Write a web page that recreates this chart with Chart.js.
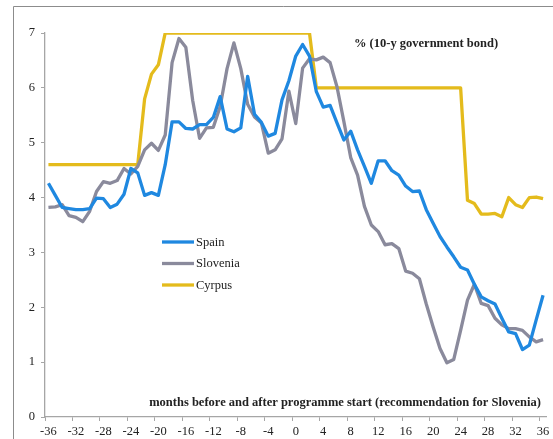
<!DOCTYPE html>
<html>
<head>
<meta charset="utf-8">
<script src="https://cdn.jsdelivr.net/npm/chart.js@4.4.0/dist/chart.umd.min.js"></script>
<style>
  body { margin: 0; background: #fff; }
  #wrap { width: 553px; height: 439px; }
</style>
</head>
<body>
<div id="wrap"><canvas id="chart" width="553" height="439"></canvas></div>
<script>
// months relative to programme start
const months = [
  -36, -35, -34, -33, -32, -31, -30, -29, -28, -27, -26, -25, -24, -23, -22, -21, -20, -19,
  -18, -17, -16, -15, -14, -13, -12, -11, -10, -9, -8, -7, -6, -5, -4, -3, -2, -1,
  0, 1, 2, 3, 4, 5, 6, 7, 8, 9, 10, 11, 12, 13, 14, 15, 16, 17, 18,
  19, 20, 21, 22, 23, 24, 25, 26, 27, 28, 29, 30, 31, 32, 33, 34, 35, 36
];

// 10-year government bond yields, %
const spain = [
  4.26, 4.04, 3.82, 3.80, 3.78, 3.78, 3.80, 3.99, 3.98, 3.82,
  3.88, 4.06, 4.53, 4.45, 4.04, 4.09, 4.04, 4.60, 5.38, 5.38,
  5.26, 5.25, 5.33, 5.33, 5.46, 5.84, 5.25, 5.20, 5.27, 6.21,
  5.52, 5.37, 5.12, 5.17, 5.78, 6.13, 6.58, 6.79, 6.58, 5.93,
  5.65, 5.68, 5.36, 5.05, 5.21, 4.87, 4.57, 4.26, 4.67, 4.67,
  4.49, 4.41, 4.21, 4.11, 4.12, 3.78, 3.53, 3.29, 3.10, 2.92,
  2.73, 2.68, 2.42, 2.19, 2.12, 2.06, 1.80, 1.55, 1.52, 1.23,
  1.31, 1.77, 2.22
];
const slovenia = [
  3.82, 3.83, 3.87, 3.67, 3.64, 3.56, 3.75, 4.11, 4.29, 4.26,
  4.31, 4.53, 4.43, 4.57, 4.87, 4.99, 4.86, 5.14, 6.46, 6.90,
  6.74, 5.77, 5.08, 5.27, 5.28, 5.66, 6.35, 6.82, 6.35, 5.70,
  5.47, 5.36, 4.81, 4.87, 5.07, 5.94, 5.35, 6.36, 6.53, 6.51,
  6.56, 6.46, 6.02, 5.39, 4.73, 4.41, 3.84, 3.50, 3.38, 3.14,
  3.16, 3.07, 2.66, 2.62, 2.52, 2.06, 1.64, 1.25, 0.99, 1.05,
  1.58, 2.13, 2.42, 2.07, 2.03, 1.80, 1.68, 1.61, 1.61, 1.58,
  1.46, 1.37, 1.41
];
const cyprus = [
  4.6, 4.6, 4.6, 4.6, 4.6, 4.6, 4.6, 4.6, 4.6, 4.6,
  4.6, 4.6, 4.6, 4.6, 5.8, 6.25, 6.42, 7, 7, 7,
  7, 7, 7, 7, 7, 7, 7, 7, 7, 7,
  7, 7, 7, 7, 7, 7, 7, 7, 7, 6,
  6, 6, 6, 6, 6, 6, 6, 6, 6, 6,
  6, 6, 6, 6, 6, 6, 6, 6, 6, 6,
  6, 3.95, 3.89, 3.70, 3.70, 3.71, 3.65, 4.0, 3.87, 3.82,
  4.0, 4.01, 3.98
];

const seriesNames = ['Spain', 'Slovenia', 'Cyrpus'];
const seriesColors = ['#1f88e0', '#8a8a9c', '#e4bb1c'];

const serif = "'Liberation Serif', 'Times New Roman', serif";
const axisGrey = '#a6a6a6';
const textColor = '#222';

// frame, in-plot titles and legend
const decorations = {
  id: 'decorations',
  beforeDraw(chart) {
    const ctx = chart.ctx;
    ctx.save();
    ctx.strokeStyle = '#8c8c8c';
    ctx.lineWidth = 1;
    ctx.beginPath();
    ctx.moveTo(13.5, 439);
    ctx.lineTo(13.5, 6.5);
    ctx.lineTo(553, 6.5);
    ctx.stroke();
    ctx.restore();
  },
  afterDraw(chart) {
    const ctx = chart.ctx;
    ctx.save();
    ctx.fillStyle = textColor;
    ctx.textAlign = 'center';
    ctx.textBaseline = 'alphabetic';
    ctx.font = 'bold 12.5px ' + serif;
    ctx.fillText('% (10-y government bond)', 426, 46.5);
    ctx.fillText('months before and after programme start (recommendation for Slovenia)', 345, 405.5);

    ctx.textAlign = 'left';
    ctx.textBaseline = 'middle';
    ctx.font = '12.5px ' + serif;
    chart.data.datasets.forEach((ds, i) => {
      const y = 242 + i * 21.5;
      ctx.strokeStyle = ds.borderColor;
      ctx.lineWidth = ds.borderWidth;
      ctx.beginPath();
      ctx.moveTo(162, y);
      ctx.lineTo(194, y);
      ctx.stroke();
      ctx.fillText(ds.label, 196, y + 0.5);
    });
    ctx.restore();
  }
};

const values = [spain, slovenia, cyprus];

new Chart(document.getElementById('chart'), {
  type: 'line',
  data: {
    labels: months,
    datasets: values.map((v, i) => ({
      label: seriesNames[i],
      data: v,
      borderColor: seriesColors[i],
      backgroundColor: seriesColors[i],
      borderWidth: 3.3,
      pointRadius: 0,
      tension: 0,
      borderJoinStyle: 'round'
    }))
  },
  options: {
    responsive: false,
    devicePixelRatio: 1,
    animation: false,
    layout: { padding: { top: 33, right: 6.5, left: 0, bottom: 0 } },
    plugins: {
      legend: { display: false },
      tooltip: { enabled: false }
    },
    scales: {
      x: {
        type: 'category',
        offset: true,
        afterFit(s) { s.height = 22; },
        grid: {
          offset: true,
          drawOnChartArea: false,
          tickLength: 4,
          color: c => (c.index % 4 === 0 ? axisGrey : 'rgba(0,0,0,0)')
        },
        border: { color: axisGrey, width: 1.3 },
        ticks: {
          autoSkip: false,
          maxRotation: 0,
          minRotation: 0,
          padding: 3,
          color: textColor,
          font: { family: serif, size: 12.5 },
          callback(value, index) {
            return months[index] % 4 === 0 ? String(months[index]) : '';
          }
        }
      },
      y: {
        min: 0,
        max: 7,
        afterFit(s) { s.width = 45; },
        grid: {
          drawOnChartArea: false,
          tickLength: 4,
          color: axisGrey
        },
        border: { color: axisGrey, width: 1.3 },
        ticks: {
          stepSize: 1,
          padding: 6,
          color: textColor,
          font: { family: serif, size: 12.5 }
        }
      }
    }
  },
  plugins: [decorations]
});
</script>
</body>
</html>
